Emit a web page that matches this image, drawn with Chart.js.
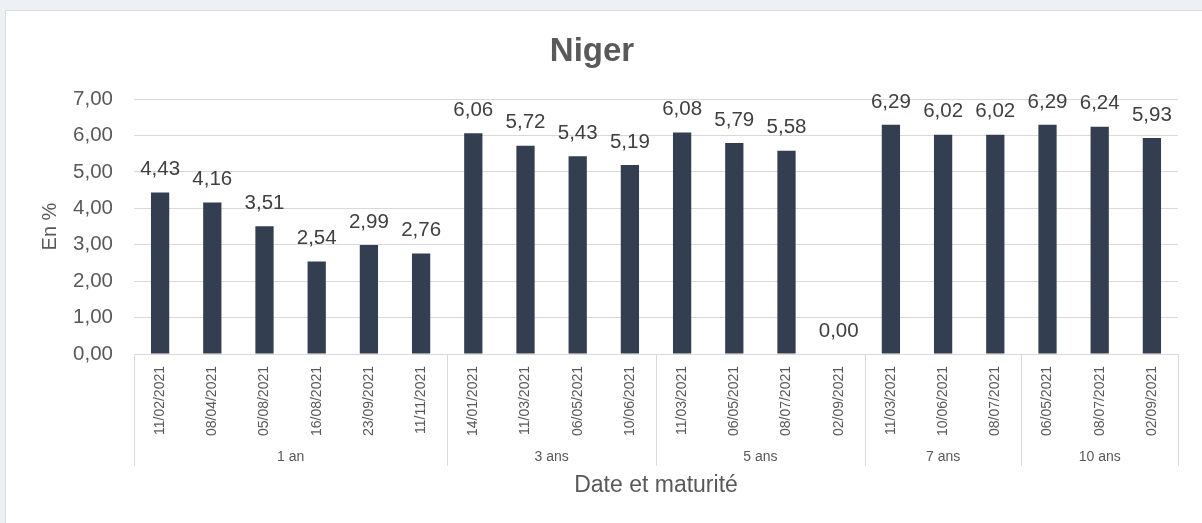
<!DOCTYPE html>
<html>
<head>
<meta charset="utf-8">
<script src="https://cdn.jsdelivr.net/npm/chart.js@4"></script>
<style>
  html, body { margin: 0; padding: 0; }
  body { width: 1202px; height: 523px; background: #edf1f5; overflow: hidden; position: relative; }
  .card { position: absolute; left: 5px; top: 10px; width: 1197px; height: 513px; background: #fff;
          border-left: 1px solid #d9dbe0; border-top: 1px solid #d9dbe0; box-sizing: border-box; }
  canvas { position: absolute; left: 0; top: 0; }
</style>
</head>
<body>
<div class="card"><canvas id="chart" width="1196" height="512"></canvas></div>
<script>
const dates = [
  "11/02/2021", "08/04/2021", "05/08/2021", "16/08/2021", "23/09/2021", "11/11/2021",
  "14/01/2021", "11/03/2021", "06/05/2021", "10/06/2021",
  "11/03/2021", "06/05/2021", "08/07/2021", "02/09/2021",
  "11/03/2021", "10/06/2021", "08/07/2021",
  "06/05/2021", "08/07/2021", "02/09/2021"
]
const rates = [
  4.43, 4.16, 3.51, 2.54, 2.99, 2.76,
  6.06, 5.72, 5.43, 5.19,
  6.08, 5.79, 5.58, 0.00,
  6.29, 6.02, 6.02,
  6.29, 6.24, 5.93
]
const maturities = ["1 an", "3 ans", "5 ans", "7 ans", "10 ans"]
const maturityCounts = [6, 4, 4, 3, 3]
const yTicks = [0, 1, 2, 3, 4, 5, 6, 7]

const fontFamily = "'Liberation Sans', Arial, sans-serif"
const textGrey = "#595959"
const fmt = (v) => v.toFixed(2).replace(".", ",")

// value labels above every bar
const valueLabels = {
  id: "valueLabels",
  afterDatasetsDraw(chart) {
    const ctx = chart.ctx
    const meta = chart.getDatasetMeta(0)
    ctx.save()
    ctx.font = "20.5px " + fontFamily
    ctx.fillStyle = "#404040"
    ctx.textAlign = "center"
    ctx.textBaseline = "middle"
    meta.data.forEach((bar, i) => {
      ctx.fillText(fmt(rates[i]), bar.x, bar.y - 23)
    })
    ctx.restore()
  }
}

// second row of the x axis: maturity groups with separators
const groupAxis = {
  id: "groupAxis",
  afterDraw(chart) {
    const ctx = chart.ctx
    const x = chart.scales.x
    const top = chart.chartArea.bottom
    const half = (x.getPixelForValue(1) - x.getPixelForValue(0)) / 2
    ctx.save()
    ctx.strokeStyle = "#d9d9d9"
    ctx.lineWidth = 1
    ctx.font = "14px " + fontFamily
    ctx.fillStyle = textGrey
    ctx.textAlign = "center"
    ctx.textBaseline = "middle"
    let start = 0
    const edges = [x.getPixelForValue(0) - half]
    maturityCounts.forEach((n, g) => {
      const end = start + n - 1
      const left = x.getPixelForValue(start) - half
      const right = x.getPixelForValue(end) + half
      edges.push(right)
      ctx.fillText(maturities[g], (left + right) / 2, top + 103)
      start += n
    })
    edges.forEach((ex) => {
      const px = Math.round(ex) + 0.5
      ctx.beginPath()
      ctx.moveTo(px, top)
      ctx.lineTo(px, top + 112)
      ctx.stroke()
    })
    ctx.restore()
  }
}

new Chart(document.getElementById("chart"), {
  type: "bar",
  data: {
    labels: dates,
    datasets: [{
      data: rates,
      backgroundColor: "#333f50",
      barPercentage: 0.35,
      categoryPercentage: 1
    }]
  },
  options: {
    responsive: false,
    animation: false,
    layout: { padding: { left: 0, right: 24, top: 0, bottom: 0 } },
    plugins: {
      legend: { display: false },
      tooltip: { enabled: false },
      title: {
        display: true,
        text: "Niger",
        color: textGrey,
        font: { family: fontFamily, size: 33, weight: "bold" },
        padding: { top: 21, bottom: 27.4 }
      }
    },
    scales: {
      y: {
        min: 0,
        max: 7,
        afterBuildTicks(scale) { scale.ticks = yTicks.map((v) => ({ value: v })) },
        afterFit(scale) { scale.width = 128 },
        border: { display: false },
        grid: { color: "#d9d9d9", drawTicks: false },
        ticks: {
          padding: 21,
          color: textGrey,
          font: { family: fontFamily, size: 20.5 },
          callback: (v) => fmt(v)
        },
        title: {
          display: true,
          text: "En %",
          color: textGrey,
          font: { family: fontFamily, size: 20 },
          padding: { top: 32, bottom: 0 }
        }
      },
      x: {
        afterFit(scale) { scale.height = 169 },
        border: { display: true, color: "#d9d9d9" },
        grid: { display: false, drawTicks: false },
        ticks: {
          padding: 12,
          minRotation: 90,
          maxRotation: 90,
          autoSkip: false,
          color: textGrey,
          font: { family: fontFamily, size: 14 }
        },
        title: {
          display: true,
          text: "Date et maturité",
          color: textGrey,
          font: { family: fontFamily, size: 23 },
          padding: { top: 0, bottom: 24 }
        }
      }
    }
  },
  plugins: [valueLabels, groupAxis]
})
</script>
</body>
</html>
